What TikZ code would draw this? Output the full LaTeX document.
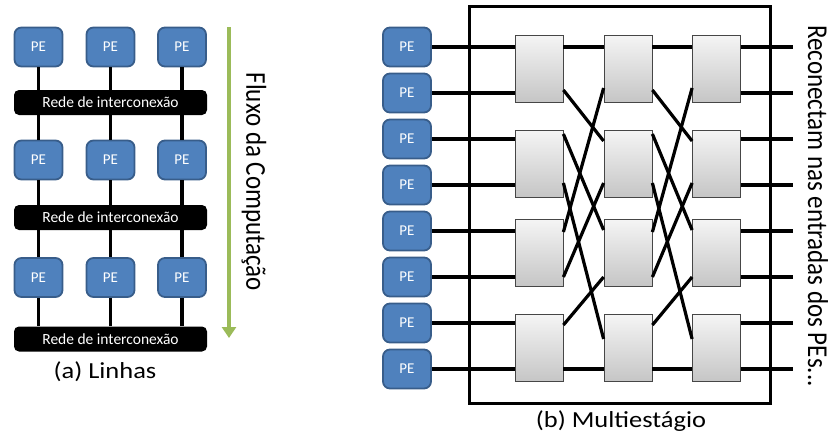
\documentclass[tikz,border=0pt]{standalone}
\usepackage{fontspec}
\setmainfont{Carlito}
\usetikzlibrary{arrows.meta,calc}
\definecolor{peblue}{HTML}{4F81BD}
\definecolor{peborder}{HTML}{385D8A}
\definecolor{flowgreen}{HTML}{9BBB59}

\begin{document}
\begin{tikzpicture}[x=1pt,y=-1pt,
  pebox/.style={draw=peborder, line width=1.8pt, fill=peblue, rounded corners=7pt,
    minimum width=48pt, minimum height=39pt, inner sep=0pt, text=white,
    font=\fontsize{15}{15}\selectfont},
  netbar/.style={fill=black, rounded corners=5pt, minimum width=193pt,
    minimum height=25pt, inner sep=0pt, text=white, font=\fontsize{15.5}{15.5}\selectfont},
  switchbox/.style={draw=gray!55!black, line width=0.8pt, top color=gray!8,
    bottom color=gray!45, minimum width=48pt, minimum height=67pt, inner sep=0pt},
  wire/.style={line width=3.2pt, black},
  caption/.style={inner sep=0pt, font=\fontsize{23}{23}\selectfont},
  sidelabel/.style={rotate=-90, inner sep=0pt, font=\fontsize{25}{25}\selectfont},
]
\useasboundingbox (0,0) rectangle (830,439);

% ---------- (a) row organisation ----------
\foreach \r/\y in {1/47,2/160,3/277.5}
  \foreach \c/\x in {1/38.5,2/110.5,3/182}
    \node[pebox] (a\r\c) at (\x,\y) {PE};
\node[netbar] (bar1) at (110.5,102.5) {Rede de interconexão};
\node[netbar] (bar2) at (110.5,217.5) {Rede de interconexão};
\node[netbar] (bar3) at (110.5,339)   {Rede de interconexão};

\foreach \c in {1,2,3} {
  \draw[wire] (a1\c.south) -- (a1\c.south |- bar1.north);
  \draw[wire] (a2\c.north |- bar1.south) -- (a2\c.north);
  \draw[wire] (a2\c.south) -- (a2\c.south |- bar2.north);
  \draw[wire] (a3\c.north |- bar2.south) -- (a3\c.north);
  \draw[wire] (a3\c.south) -- (a3\c.south |- bar3.north);
}

\coordinate (flowtop) at (229,27);
\coordinate (flowend) at (229,338);
\draw[flowgreen, line width=3.8pt, -{Triangle[width=14pt,length=11pt]}] (flowtop) -- (flowend);
\node[sidelabel] (flowlabel) at (254,182) {\scalebox{1}[1.15]{Fluxo da Computação}};

\node[caption] (capa) at (105,372) {\scalebox{1.15}[1]{(a) Linhas}};

% ---------- (b) multistage network ----------
\node[draw, line width=3pt, minimum width=301pt, minimum height=397pt,
  inner sep=0pt] (frame) at (619.5,204.5) {};

\foreach \i in {0,...,7}
  \node[pebox] (p\i) at (407,{47+46*\i}) {PE};

\foreach \s/\x in {1/539,2/628,3/716.5}
  \foreach \k/\y in {1/68.5,2/163.5,3/252.5,4/348}
    \node[switchbox] (s\s\k) at (\x,\y) {};

% processing elements into the first stage
\foreach \i/\k in {0/1,1/1,2/2,3/2,4/3,5/3,6/4,7/4}
  \draw[wire] (p\i.east) -- (p\i.east -| s1\k.west);

% perfect-shuffle links between consecutive stages
\foreach \s/\t in {1/2,2/3}
  \foreach \a/\ly/\b/\ry in {1/47/1/47, 1/90/2/141, 2/134/3/230, 2/183/4/339,
                             3/232/1/88, 3/277/2/183, 4/325/3/277, 4/369/4/369}
    \draw[wire] (s\s\a.east |- 0,\ly) -- (s\t\b.west |- 0,\ry);

% outputs of the last stage
\foreach \i/\k in {0/1,1/1,2/2,3/2,4/3,5/3,6/4,7/4} {
  \coordinate (out\i) at (793,{47+46*\i});
  \draw[wire] (s3\k.east |- out\i) -- (out\i);
}

\node[sidelabel] (reconnect) at (818,206) {\scalebox{1}[1.15]{Reconectam nas entradas dos PEs...}};
\node[caption] (capb) at (621,421) {\scalebox{1.15}[1]{(b) Multiestágio}};
\end{tikzpicture}
\end{document}
